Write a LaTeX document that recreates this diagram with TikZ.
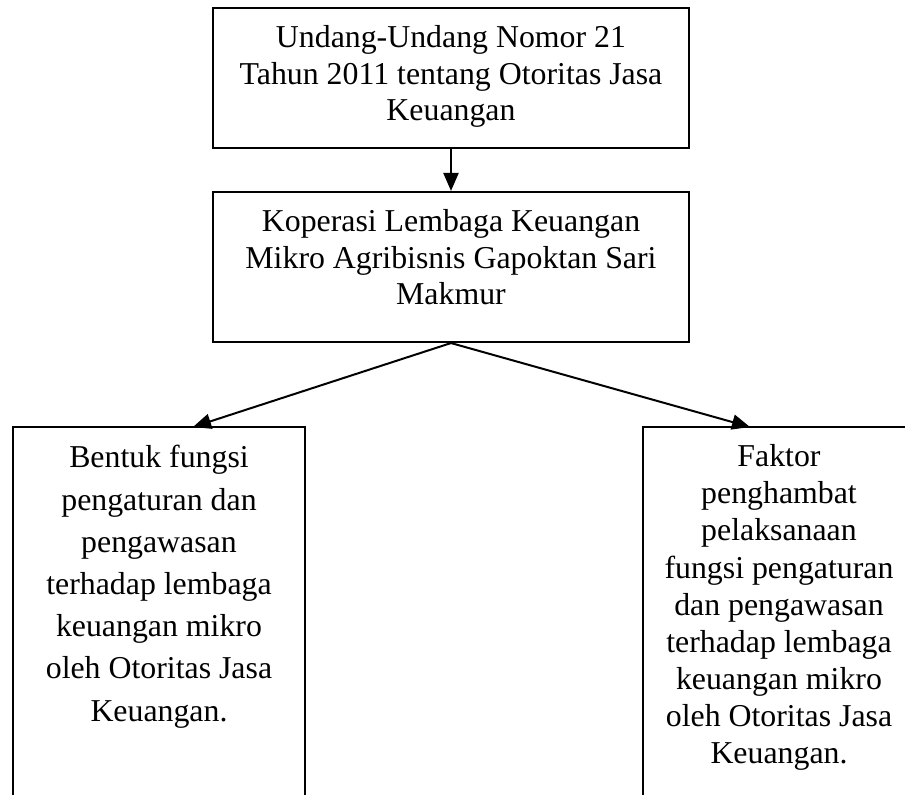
\documentclass[tikz,border=0pt]{standalone}
\usepackage{fontspec}
\setmainfont{Liberation Serif}
\usetikzlibrary{calc}
\usetikzlibrary{arrows.meta}

\begin{document}
\begin{tikzpicture}[x=0.377pt,y=-0.377pt]
            % Define styles
            \tikzstyle{boxnode} = [draw,line width=0.75pt,shape=rectangle,inner sep=0pt]
            \tikzstyle{boxtext} = [anchor=north,align=center,inner sep=0pt]
            \tikzstyle{flowarrow} = [line width=0.75pt,-{Triangle[length=6.8pt,width=5.7pt]}]
            % Page size and cut at the bottom
            \useasboundingbox (0,0) rectangle (905,795);
            \clip (0,0) rectangle (905,795);
            % Boxes
            	% Law
            	\node (uu) at (451,78) [boxnode,minimum width=179.5pt,minimum height=52.8pt]{};
            	\node (uutext) at ($(uu.north)+(0,18)$) [boxtext,font={\fontsize{12pt}{13.8pt}\selectfont}]{Undang-Undang Nomor 21\\Tahun 2011 tentang Otoritas Jasa\\Keuangan};
            	% Cooperative
            	\node (klm) at (451,267) [boxnode,minimum width=179.5pt,minimum height=56.6pt]{};
            	\node (klmtext) at ($(klm.north)+(0,18)$) [boxtext,font={\fontsize{12pt}{13.8pt}\selectfont}]{Koperasi Lembaga Keuangan\\Mikro Agribisnis Gapoktan Sari\\Makmur};
            	% Left outcome
            	\node (bentuk) at (159,628.5) [boxnode,minimum width=110.1pt,minimum height=151.9pt]{};
            	\node (bentuktext) at ($(bentuk.north)+(0,19)$) [boxtext,font={\fontsize{12pt}{15.9pt}\selectfont}]{Bentuk fungsi\\pengaturan dan\\pengawasan\\terhadap lembaga\\keuangan mikro\\oleh Otoritas Jasa\\Keuangan.};
            	% Right outcome
            	\node (faktor) at (779,628.5) [boxnode,minimum width=102.5pt,minimum height=151.9pt]{};
            	\node (faktortext) at ($(faktor.north)+(0,18)$) [boxtext,font={\fontsize{12pt}{14pt}\selectfont}]{Faktor\\penghambat\\pelaksanaan\\fungsi pengaturan\\dan pengawasan\\terhadap lembaga\\keuangan mikro\\oleh Otoritas Jasa\\Keuangan.};
            % Arrow ends on the lower boxes
            	\coordinate (tipL) at (193,427);
            	\coordinate (tipR) at (750,427);
            % Arrows
                \draw [flowarrow] (uu.south) -- (klm.north);
                \draw [flowarrow] (klm.south) -- (tipL);
                \draw [flowarrow] (klm.south) -- (tipR);
        \end{tikzpicture}
\end{document}
